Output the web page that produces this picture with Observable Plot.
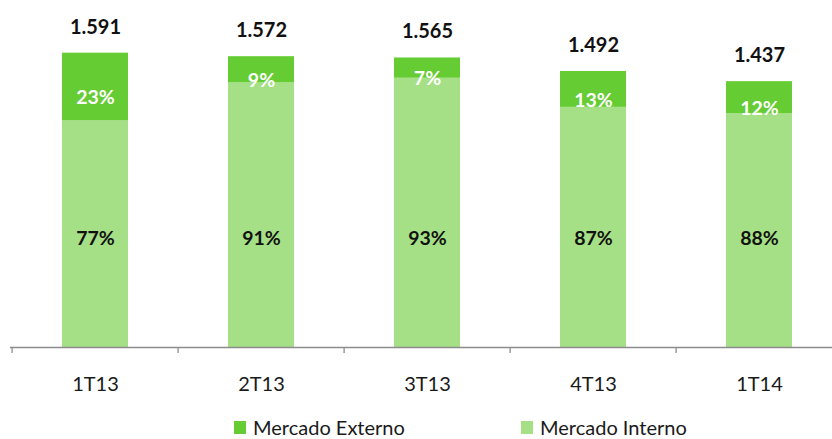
<!DOCTYPE html>
<html><head><meta charset="utf-8">
<script src="https://cdn.jsdelivr.net/npm/d3@7"></script>
<script src="https://cdn.jsdelivr.net/npm/@observablehq/plot@0.6"></script>
<style>
html,body{margin:0;padding:0;background:#fff;overflow:hidden;}
#legend{position:relative;height:24px;font-family:Lato,sans-serif;font-size:20px;color:#1a1a1a;}
.item{position:absolute;top:0;display:flex;align-items:center;height:24px;line-height:24px;white-space:nowrap;}
.sw{width:12px;height:13px;margin-right:7px;}
</style></head><body>
<div id="chart"></div>
<div id="legend"></div>
<script>
const quarters = ["1T13", "2T13", "3T13", "4T13", "1T14"];
const totals = [1591, 1572, 1565, 1492, 1437];
const externoPct = [23, 9, 7, 13, 12];
const internoPct = [77, 91, 93, 87, 88];
const seriesNames = ["Mercado Externo", "Mercado Interno"];
const seriesColors = ["#66cc33", "#a6e086"];
const internoLabelLevel = 590; // level (data units) where the interno % labels sit

const W = 832, H = 415, mL = 10, mR = -12, mT = 14, mB = 68;
const step = (W - mL - mR) / quarters.length;
const fmtBR = d3.formatLocale({decimal: ",", thousands: ".", grouping: [3], currency: ["R$", ""]}).format(",");

const table = quarters.map((q, i) => {
  const interno = totals[i] * internoPct[i] / 100;
  return {q, total: totals[i], interno, externo: totals[i] - interno, pi: internoPct[i], pe: externoPct[i]};
});
const rows = table.flatMap(d => [
  {q: d.q, series: seriesNames[1], value: d.interno},
  {q: d.q, series: seriesNames[0], value: d.externo}
]);

const chart = Plot.plot({
  width: W, height: H,
  marginLeft: mL, marginRight: mR, marginTop: mT, marginBottom: mB,
  style: {fontFamily: "Lato, sans-serif", background: "white", overflow: "visible"},
  x: {domain: quarters, paddingInner: 0.6, paddingOuter: 0.3, label: null},
  y: {domain: [0, 1800], axis: null},
  color: {domain: seriesNames, range: seriesColors},
  marks: [
    Plot.barY(rows, {x: "q", y: "value", fill: "series"}),
    Plot.ruleY([0], {stroke: "#8c8c8c", strokeWidth: 1.3}),
    Plot.axisX({tickSize: 6, tickFormat: () => "", label: null, dx: -step / 2, stroke: "#8c8c8c", strokeWidth: 1.3}),
    Plot.axisX({tickSize: 0, tickPadding: 29, fontSize: 20, fill: "#1a1a1a", label: null}),
    Plot.text(table, {x: "q", y: "total", text: d => fmtBR(d.total), dy: -26, fontWeight: "bold", fontSize: 20, fill: "#111"}),
    Plot.text(table, {x: "q", y: d => d.interno + d.externo / 2, text: d => d.pe + "%", dy: 11, fill: "white", fontWeight: "bold", fontSize: 19.5}),
    Plot.text(table, {x: "q", y: () => internoLabelLevel, text: d => d.pi + "%", fill: "#111", fontWeight: "bold", fontSize: 19.5})
  ]
});
document.getElementById("chart").appendChild(chart);

const legend = document.getElementById("legend");
const legendLeft = [234, 521];
seriesNames.forEach((name, i) => {
  const item = document.createElement("div");
  item.className = "item";
  item.style.left = legendLeft[i] + "px";
  item.innerHTML = `<span class="sw" style="background:${seriesColors[i]}"></span><span>${name}</span>`;
  legend.appendChild(item);
});
</script>
</body></html>
